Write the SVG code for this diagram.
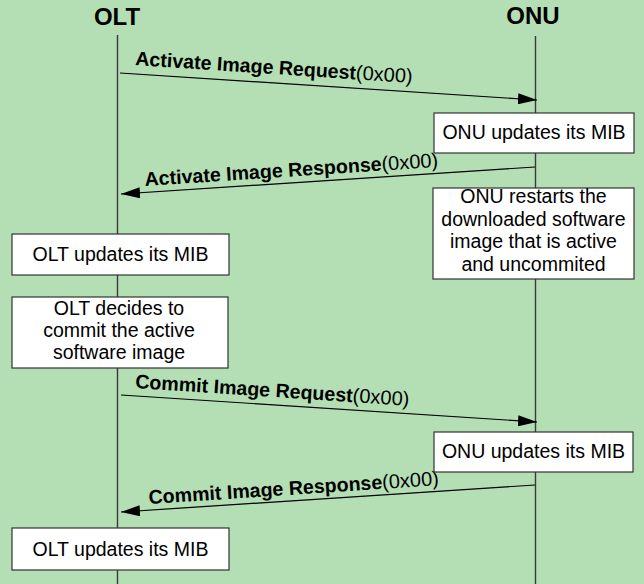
<svg xmlns="http://www.w3.org/2000/svg" width="644" height="584" viewBox="0 0 644 584">
<style>
.title{font-family:"Liberation Sans",Arial,sans-serif;font-size:24px;font-weight:bold;fill:#000;text-anchor:middle}
.lbl{font-family:"Liberation Sans",Arial,sans-serif;font-size:19.6px;font-weight:bold;fill:#000}
.lbl tspan.n{font-weight:normal;font-size:20px}
.box rect{fill:#fff;stroke:#333;stroke-width:1.2}
.box text{font-family:"Liberation Sans",Arial,sans-serif;font-size:19.5px;fill:#000;text-anchor:middle}
.life{stroke:#3a3a3a;stroke-width:1.4}
.msg{stroke:#000;stroke-width:1.2;fill:none;marker-end:url(#ah)}
</style>
<defs>
<marker id="ah" viewBox="0 0 19 11" refX="19" refY="5.5" markerWidth="19" markerHeight="11" markerUnits="userSpaceOnUse" orient="auto">
<path d="M0,0 L19,5.5 L0,11 z" fill="#000"/>
</marker>
</defs>
<rect x="0" y="0" width="644" height="584" fill="#b4deb4"/>
<g id="olt">
<text class="title" x="117" y="25">OLT</text>
<line class="life" x1="117.5" y1="35" x2="117.5" y2="584"/>
</g>
<g id="onu">
<text class="title" x="533" y="24">ONU</text>
<line class="life" x1="535.5" y1="36" x2="535.5" y2="584"/>
</g>
<g id="connectors">
<line class="msg" x1="120" y1="73" x2="537" y2="100"/>
<text class="lbl" x="135" y="65" transform="rotate(3.72 135 65)">Activate Image Request<tspan class="n">(0x00)</tspan></text>
<line class="msg" x1="535" y1="167" x2="121" y2="194"/>
<text class="lbl" x="145" y="186" transform="rotate(-3.72 145 186)">Activate Image Response<tspan class="n">(0x00)</tspan></text>
<line class="msg" x1="121" y1="395" x2="537" y2="422"/>
<text class="lbl" x="135" y="388" transform="rotate(3.72 135 388)">Commit Image Request<tspan class="n">(0x00)</tspan></text>
<line class="msg" x1="535" y1="485" x2="121" y2="512"/>
<text class="lbl" x="149" y="504" transform="rotate(-3.72 149 504)">Commit Image Response<tspan class="n">(0x00)</tspan></text>
</g>
<g id="onu-mib-1" class="box">
<rect x="434" y="113" width="200" height="40"/>
<text x="534" y="139">ONU updates its MIB</text>
</g>
<g id="onu-restart" class="box">
<rect x="433" y="188" width="201" height="91"/>
<text x="533.5" y="203">ONU restarts the</text>
<text x="533.5" y="225.5">downloaded software</text>
<text x="533.5" y="248">image that is active</text>
<text x="533.5" y="270.5">and uncommited</text>
</g>
<g id="olt-mib-1" class="box">
<rect x="12" y="234" width="217" height="41"/>
<text x="120.5" y="261">OLT updates its MIB</text>
</g>
<g id="olt-decides" class="box">
<rect x="12" y="297" width="216" height="71"/>
<text x="119" y="315">OLT decides to</text>
<text x="119" y="337">commit the active</text>
<text x="119" y="359">software image</text>
</g>
<g id="onu-mib-2" class="box">
<rect x="434" y="432" width="199" height="40"/>
<text x="533.5" y="458">ONU updates its MIB</text>
</g>
<g id="olt-mib-2" class="box">
<rect x="12" y="528" width="217" height="42"/>
<text x="120.5" y="555.5">OLT updates its MIB</text>
</g>
</svg>
